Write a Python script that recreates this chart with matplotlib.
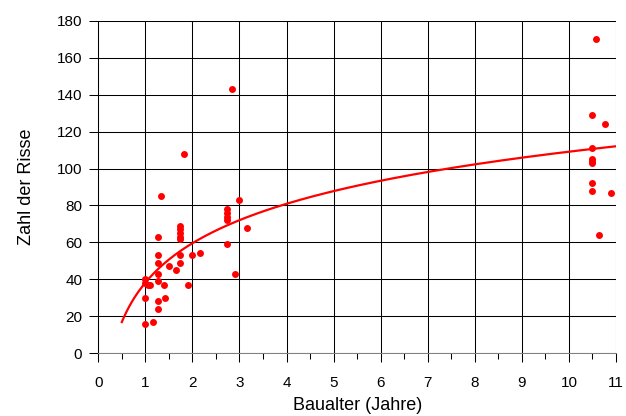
import matplotlib.pyplot as plt
import numpy as np

plt.rcParams['font.family'] = ['Liberation Sans', 'DejaVu Sans']

# Baualter (Jahre) und Zahl der Risse
alter = [1.0, 1.0, 1.06, 1.1, 1.0, 1.0, 1.16,
         1.26, 1.26, 1.26, 1.26, 1.26, 1.26, 1.26, 1.33,
         1.40, 1.41, 1.50, 1.65,
         1.74, 1.74, 1.74, 1.74, 1.74, 1.74, 1.74, 1.83, 1.91,
         2.0, 2.16,
         2.74, 2.74, 2.74, 2.74, 2.74, 2.84, 2.91, 3.0, 3.16,
         10.5, 10.5, 10.5, 10.5, 10.5, 10.5, 10.5, 10.58, 10.64, 10.76, 10.9]
risse = [40, 38, 37, 37, 30, 16, 17,
         63, 53, 49, 43, 39, 28, 24, 85,
         37, 30, 47, 45,
         69, 67, 65, 63, 62, 53, 49, 108, 37,
         53, 54,
         78, 76, 74, 72, 59, 143, 43, 83, 68,
         129, 111, 105, 104, 103, 92, 88, 170, 64, 124, 87]

# logarithmische Trendlinie y = a*ln(x) + b
trend_a = 30.8
trend_b = 38.2
trend_von = 0.5
trend_bis = 11.0

fig = plt.figure(figsize=(6.26, 4.16), dpi=100)
ax = fig.add_axes([0.157, 0.151, 0.827, 0.799])

ax.set_xlim(0, 11)
ax.set_ylim(0, 180)
ax.set_xticks(np.arange(0, 12, 1))
ax.set_xticks(np.arange(0.5, 11, 1), minor=True)
ax.set_yticks(np.arange(0, 200, 20))
ax.grid(True, which='major', color='black', linewidth=0.75)
ax.set_axisbelow(True)

for s in ['top', 'right']:
    ax.spines[s].set_visible(False)
ax.spines['left'].set_color('black')
ax.spines['bottom'].set_color('#808080')
ax.spines['left'].set_linewidth(0.75)
ax.spines['bottom'].set_linewidth(0.75)

ax.tick_params(axis='both', which='major', direction='out', length=6.5, width=0.75, labelsize=11)
ax.tick_params(axis='x', which='minor', direction='out', length=4, width=0.75)
ax.tick_params(axis='x', which='major', pad=10)
ax.tick_params(axis='y', which='major', pad=5)

xt = np.linspace(trend_von, trend_bis, 200)
ax.plot(xt, trend_a * np.log(xt) + trend_b, color='#ff0000', linewidth=1.6, zorder=3)
ax.scatter(alter, risse, s=25, color='#ff0000', linewidths=0, zorder=4)

ax.set_xlabel('Baualter (Jahre)', fontsize=13, labelpad=5)
ax.set_ylabel('Zahl der Risse', fontsize=13, labelpad=16)

fig.savefig('out.png', dpi=100)
